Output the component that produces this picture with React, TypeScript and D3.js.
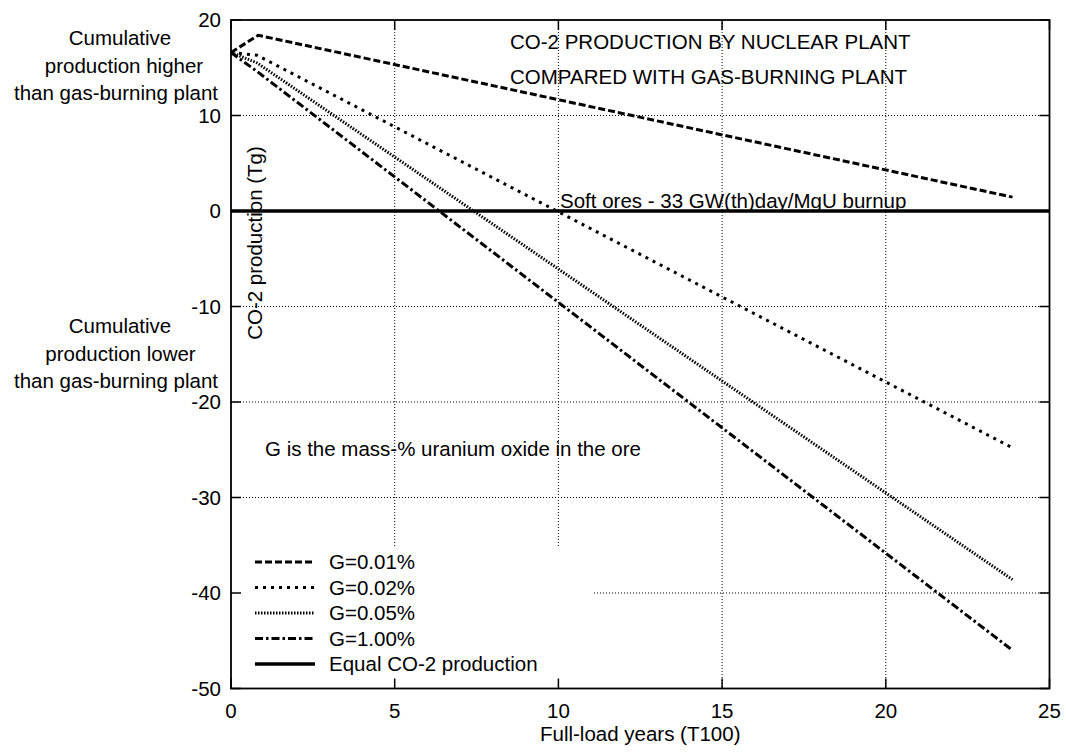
import * as d3 from 'd3';

// x = full-load years (T100), y = cumulative CO-2 production (Tg)
const g001: [number, number][] = [[0, 16.6], [0.83, 18.4], [23.87, 1.45]];
const g002: [number, number][] = [[0, 16.6], [0.8, 16.3], [23.87, -24.8]];
const g005: [number, number][] = [[0, 16.6], [0.8, 15.5], [23.87, -38.6]];
const g100: [number, number][] = [[0, 16.6], [0.8, 14.6], [23.87, -46.0]];
const equalLine: [number, number][] = [[0, 0], [25, 0]];

const seriesNames = ['G=0.01%', 'G=0.02%', 'G=0.05%', 'G=1.00%', 'Equal CO-2 production'];
const xTicks = [0, 5, 10, 15, 20, 25];
const yTicks = [-50, -40, -30, -20, -10, 0, 10, 20];

const W = 1066;
const H = 753;
const FONT = '"Liberation Sans", Arial, sans-serif';
const FS = 20.5;

export default function App() {
  const x = d3.scaleLinear().domain([0, 25]).range([231, 1049.5]);
  const y = d3.scaleLinear().domain([-50, 20]).range([688.5, 20]);
  const line = d3.line<[number, number]>().x((d) => x(d[0])).y((d) => y(d[1]));

  const styles = [
    { data: g001, dash: '7,3', width: 3 },
    { data: g002, dash: '3,5', width: 3 },
    { data: g005, dash: '1.5,1.5', width: 3 },
    { data: g100, dash: '8,3,2.5,3', width: 3 },
    { data: equalLine, dash: 'none', width: 3.5 },
  ];

  const [x0, x1] = x.range();
  const [yb, yt] = y.range();
  const tick = 10;

  // key box (cleared area, bottom-left)
  const key = { x: x0, y: 548, w: 593 - x0, h: yb - 548 };

  return (
    <svg
      width={W}
      height={H}
      style={{ position: 'absolute', left: 0, top: 0, background: '#fff' }}
      fontFamily={FONT}
      fontSize={FS}
    >
      {/* grid */}
      <g stroke="#000" strokeWidth={1} strokeDasharray="1,2">
        {xTicks.slice(1, -1).map((t) => (
          <line key={'gx' + t} x1={x(t)} x2={x(t)} y1={yt} y2={yb} />
        ))}
        {yTicks.slice(1, -1).map((t) => (
          <line key={'gy' + t} x1={x0} x2={x1} y1={y(t)} y2={y(t)} />
        ))}
      </g>
      <rect x={key.x} y={key.y} width={key.w} height={key.h} fill="#fff" />

      {/* frame + ticks */}
      <rect x={x0} y={yt} width={x1 - x0} height={yb - yt} fill="none" stroke="#000" strokeWidth={1.8} />
      <g stroke="#000" strokeWidth={1.5}>
        {xTicks.map((t) => (
          <g key={'tx' + t}>
            <line x1={x(t)} x2={x(t)} y1={yb} y2={yb - tick} />
            <line x1={x(t)} x2={x(t)} y1={yt} y2={yt + tick} />
          </g>
        ))}
        {yTicks.map((t) => (
          <g key={'ty' + t}>
            <line x1={x0} x2={x0 + tick} y1={y(t)} y2={y(t)} />
            <line x1={x1} x2={x1 - tick} y1={y(t)} y2={y(t)} />
          </g>
        ))}
      </g>

      {/* tick labels */}
      {yTicks.map((t) => (
        <text key={'ly' + t} x={221} y={y(t)} dy="0.36em" textAnchor="end">
          {t}
        </text>
      ))}
      {xTicks.map((t) => (
        <text key={'lx' + t} x={x(t)} y={711} dy="0.36em" textAnchor="middle">
          {t}
        </text>
      ))}
      <text x={(x0 + x1) / 2} y={741} textAnchor="middle">Full-load years (T100)</text>
      <text transform={`translate(262,243) rotate(-90)`} textAnchor="middle">CO-2 production (Tg)</text>

      {/* series */}
      {styles.map((s, i) => (
        <path
          key={'s' + i}
          d={line(s.data) || ''}
          fill="none"
          stroke="#000"
          strokeWidth={s.width}
          strokeDasharray={s.dash}
        />
      ))}

      {/* annotations */}
      <text x={510} y={49}>CO-2 PRODUCTION BY NUCLEAR PLANT</text>
      <text x={510} y={84}>COMPARED WITH GAS-BURNING PLANT</text>
      <text x={560} y={208}>Soft ores - 33 GW(th)day/MgU burnup</text>
      <text x={265} y={456}>G is the mass-% uranium oxide in the ore</text>

      <g textAnchor="middle">
        <text x={120} y={45}>Cumulative</text>
        <text x={124} y={73}>production higher</text>
        <text x={116} y={100}>than gas-burning plant</text>
        <text x={120} y={333}>Cumulative</text>
        <text x={120.5} y={361}>production lower</text>
        <text x={116} y={388}>than gas-burning plant</text>
      </g>

      {/* legend */}
      {styles.map((s, i) => {
        const ry = 562 + i * 25.5;
        return (
          <g key={'k' + i}>
            <line x1={255} x2={315} y1={ry} y2={ry} stroke="#000" strokeWidth={s.width} strokeDasharray={s.dash} />
            <text x={329} y={ry} dy="0.36em">{seriesNames[i]}</text>
          </g>
        );
      })}
    </svg>
  );
}
